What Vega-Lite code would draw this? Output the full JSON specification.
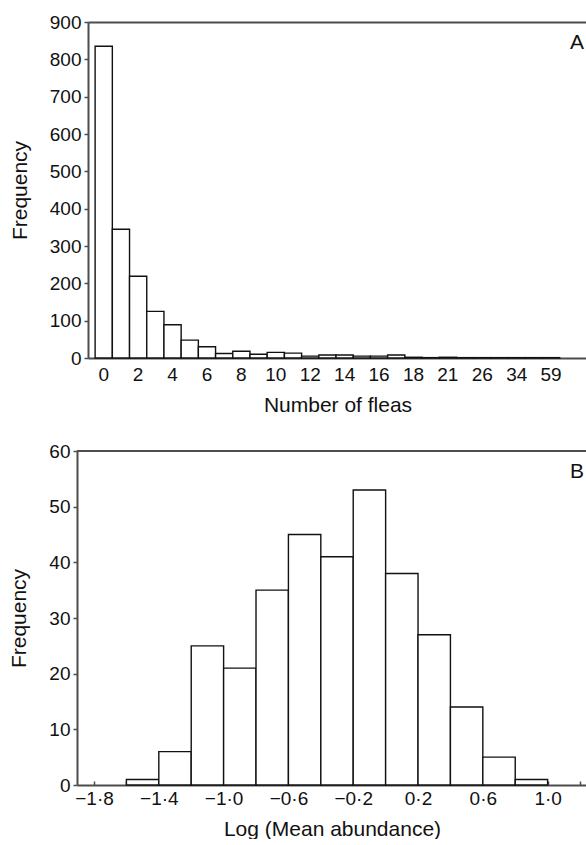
{
  "$schema": "https://vega.github.io/schema/vega-lite/v6.json",
  "padding": {"left": 8, "top": 13, "right": 0, "bottom": 0},
  "background": "white",
  "spacing": 27,
  "config": {
    "font": "Liberation Sans",
    "view": {"stroke": null},
    "axis": {
      "labelFont": "Liberation Sans",
      "titleFont": "Liberation Sans",
      "labelFontSize": 19,
      "titleFontSize": 21,
      "titleFontWeight": "normal",
      "labelColor": "#111",
      "titleColor": "#111",
      "domainColor": "#4d4d4d",
      "domainWidth": 2,
      "tickColor": "#4d4d4d",
      "tickWidth": 1.5,
      "grid": false,
      "labelOverlap": false,
      "labelFlush": false
    }
  },
  "vconcat": [
    {
      "width": 510,
      "height": 336,
      "title": {"text": "A", "anchor": "end", "orient": "top", "frame": "group", "offset": -40, "dx": -3, "fontSize": 21, "fontWeight": "normal", "font": "Liberation Sans", "color": "#111"},
      "data": {"values": [
        {"fleas": "0", "count": 835},
        {"fleas": "1", "count": 345},
        {"fleas": "2", "count": 219},
        {"fleas": "3", "count": 125},
        {"fleas": "4", "count": 89},
        {"fleas": "5", "count": 48},
        {"fleas": "6", "count": 30},
        {"fleas": "7", "count": 12},
        {"fleas": "8", "count": 18},
        {"fleas": "9", "count": 10},
        {"fleas": "10", "count": 15},
        {"fleas": "11", "count": 13},
        {"fleas": "12", "count": 5},
        {"fleas": "13", "count": 8},
        {"fleas": "14", "count": 8},
        {"fleas": "15", "count": 5},
        {"fleas": "16", "count": 5},
        {"fleas": "17", "count": 8},
        {"fleas": "18", "count": 2},
        {"fleas": "20", "count": 1},
        {"fleas": "21", "count": 2},
        {"fleas": "23", "count": 1},
        {"fleas": "26", "count": 1},
        {"fleas": "30", "count": 1},
        {"fleas": "34", "count": 1},
        {"fleas": "42", "count": 1},
        {"fleas": "59", "count": 1}
      ]},
      "resolve": {"axis": {"x": "independent", "y": "independent"}},
      "layer": [
        {
          "mark": {"type": "bar", "fill": "white", "stroke": "#111", "strokeWidth": 1.4},
          "encoding": {
            "x": {
              "field": "fleas", "type": "ordinal",
              "scale": {"domain": ["0","1","2","3","4","5","6","7","8","9","10","11","12","13","14","15","16","17","18","20","21","23","26","30","34","42","59"], "range": [11, 510], "paddingInner": 0, "paddingOuter": 1.23, "align": 0.207},
              "axis": {"orient": "bottom", "title": "Number of fleas", "labelAngle": 0, "ticks": false, "labelPadding": 7, "titlePadding": 10,
                "values": ["0","2","4","6","8","10","12","14","16","18","21","26","34","59"]}
            },
            "y": {
              "field": "count", "type": "quantitative",
              "scale": {"domain": [0, 900], "nice": false},
              "axis": {"title": "Frequency", "offset": -11, "labelOverlap": false, "labelFlush": false, "values": [0,100,200,300,400,500,600,700,800,900], "tickSize": 4, "labelPadding": 3, "titlePadding": 19}
            }
          }
        },
        {
          "mark": {"type": "point", "opacity": 0},
          "encoding": {
            "x": {
              "field": "fleas", "type": "ordinal",
              "axis": {"orient": "top", "labels": false, "ticks": false, "title": null}
            },
            "y": {"datum": 900, "axis": null}
          }
        }
      ]
    },
    {
      "width": 510,
      "height": 334,
      "title": {"text": "B", "anchor": "end", "orient": "top", "frame": "group", "offset": -40, "dx": -3, "fontSize": 21, "fontWeight": "normal", "font": "Liberation Sans", "color": "#111"},
      "data": {"values": [
        {"start": -1.6, "end": -1.4, "count": 1},
        {"start": -1.4, "end": -1.2, "count": 6},
        {"start": -1.2, "end": -1.0, "count": 25},
        {"start": -1.0, "end": -0.8, "count": 21},
        {"start": -0.8, "end": -0.6, "count": 35},
        {"start": -0.6, "end": -0.4, "count": 45},
        {"start": -0.4, "end": -0.2, "count": 41},
        {"start": -0.2, "end": 0.0, "count": 53},
        {"start": 0.0, "end": 0.2, "count": 38},
        {"start": 0.2, "end": 0.4, "count": 27},
        {"start": 0.4, "end": 0.6, "count": 14},
        {"start": 0.6, "end": 0.8, "count": 5},
        {"start": 0.8, "end": 1.0, "count": 1}
      ]},
      "layer": [
        {
          "mark": {"type": "bar", "fill": "white", "stroke": "#111", "strokeWidth": 1.4},
          "encoding": {
            "x": {
              "field": "start", "type": "quantitative",
              "scale": {"domain": [-1.905, 1.243], "nice": false, "zero": false},
              "axis": {"title": "Log (Mean abundance)", "tickSize": -4, "labelPadding": 8, "titlePadding": 10, "labelFlush": false,
                "values": [-1.8,-1.6,-1.4,-1.2,-1.0,-0.8,-0.6,-0.4,-0.2,0,0.2,0.4,0.6,0.8,1.0,1.2],
                "labelExpr": "(round(datum.value*10)+18) % 4 == 0 ? replace(replace(format(datum.value, '.1f'), '.', '·'), '-', '−') : ''"}
            },
            "x2": {"field": "end"},
            "y": {
              "field": "count", "type": "quantitative",
              "scale": {"domain": [0, 60], "nice": false},
              "axis": {"title": "Frequency", "labelOverlap": false, "labelFlush": false, "values": [0,10,20,30,40,50,60], "tickSize": 4, "labelPadding": 3, "titlePadding": 19}
            },
            "y2": {"datum": 0}
          }
        },
        {
          "mark": {"type": "rule", "stroke": "#4d4d4d", "strokeWidth": 2},
          "encoding": {"y": {"datum": 60}}
        }
      ]
    }
  ]
}
